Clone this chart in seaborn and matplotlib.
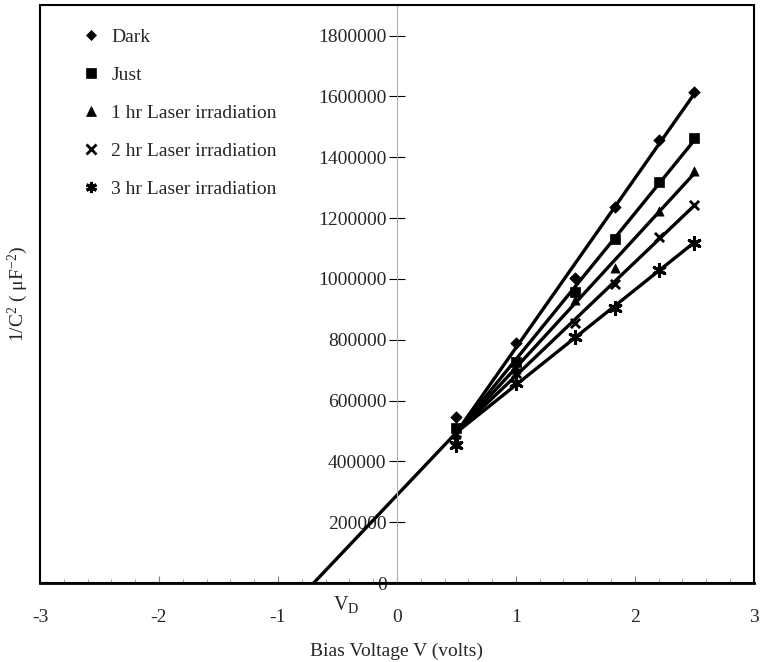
import numpy as np
import pandas as pd
import seaborn as sns
from matplotlib import pyplot as plt
from matplotlib.lines import Line2D
from matplotlib.patches import Rectangle

# bias voltage (V) where C was measured
bias_v = [0.5, 1.0, 1.5, 1.83, 2.2, 2.5]

# 1/C^2 (uF^-2)
dark = [546000, 790000, 1003000, 1237000, 1457000, 1615000]
just = [510000, 727000, 957000, 1132000, 1319000, 1462000]
hr1 = [490000, 705000, 931000, 1036000, 1224000, 1355000]
hr2 = [470000, 690000, 855000, 984000, 1138000, 1243000]
hr3 = [454000, 658000, 809000, 905000, 1030000, 1118000]

labels = ["Dark", "Just", "1 hr Laser irradiation",
          "2 hr Laser irradiation", "3 hr Laser irradiation"]
series = [dark, just, hr1, hr2, hr3]

# common point of the fits and the extrapolated intercept V_D
pivot_v, pivot_c = 0.5, 495000
v_d = -0.70

df = pd.DataFrame({
    "V": bias_v * len(series),
    "invC2": sum(series, []),
    "series": np.repeat(labels, len(bias_v)),
})

sns.set_theme(style="white")
plt.rcParams["font.family"] = ["Liberation Serif", "DejaVu Serif"]
plt.rcParams["mathtext.fontset"] = "custom"
plt.rcParams["mathtext.rm"] = "Liberation Serif"
plt.rcParams["mathtext.default"] = "regular"

fs = 14

fig = plt.figure(figsize=(7.61, 6.62), dpi=100)
ax = fig.add_axes([0.0526, 0.1193, 0.938, 0.873])

marks = {labels[0]: "D", labels[1]: "s", labels[2]: "^",
         labels[3]: "x", labels[4]: (6, 2, 0)}
msize = {labels[0]: 34, labels[1]: 44, labels[2]: 44,
         labels[3]: 44, labels[4]: 75}
mew = {labels[0]: 0.5, labels[1]: 0.5, labels[2]: 0.5,
       labels[3]: 2.0, labels[4]: 2.2}

for lab in labels:
    sub = df[df.series == lab]
    sns.scatterplot(data=sub, x="V", y="invC2", marker=marks[lab],
                    s=msize[lab], color="black", edgecolor="black",
                    linewidth=mew[lab], ax=ax, legend=False, zorder=3)
    # least squares line forced through the common point
    x = np.array(sub.V) - pivot_v
    y = np.array(sub.invC2) - pivot_c
    k = (x * y).sum() / (x * x).sum()
    xe = max(bias_v)
    ax.plot([pivot_v, xe], [pivot_c, pivot_c + k * (xe - pivot_v)],
            color="black", lw=2.4, solid_capstyle="butt", zorder=2)

# extrapolation down to the x axis
ax.plot([v_d, pivot_v], [0, pivot_c], color="black", lw=2.4, zorder=2)

ax.set_xlim(-3, 3)
ax.set_ylim(0, 1900000)

ax.spines["left"].set_position(("data", 0))
ax.spines["left"].set_color("#b0b0b0")
ax.spines["left"].set_linewidth(0.8)
for s in ["top", "right"]:
    ax.spines[s].set_color("black")
    ax.spines[s].set_linewidth(1.2)
ax.spines["bottom"].set_color("black")
ax.spines["bottom"].set_linewidth(2.0)
ax.add_patch(Rectangle((0, 0), 1, 1, transform=ax.transAxes, fill=False,
                       lw=1.5, ec="black", clip_on=False, zorder=5))

ax.set_yticks(np.arange(0, 1800001, 200000))
ax.set_yticklabels([str(v) for v in range(0, 1800001, 200000)])
ax.set_xticks([-3, -2, -1, 0, 1, 2, 3])
ax.set_xticklabels(["-3", "-2", "-1", "0", "1", "2", "3"])
ax.set_xticks(np.arange(-3, 3.01, 0.2), minor=True)
ax.tick_params(axis="y", direction="inout", length=11, width=0.8,
               color="black", labelsize=fs, pad=2, left=True)
ax.tick_params(axis="x", which="major", direction="in", length=5,
               width=0.8, color="#808080", labelsize=fs, pad=19,
               bottom=True)
ax.tick_params(axis="x", which="minor", direction="in", length=3,
               width=0.6, color="#909090", bottom=True)

ax.set_xlabel("Bias Voltage V (volts)", fontsize=fs, labelpad=12)
ax.set_ylabel("1/C$^{2}$ ( μF$^{-2}$)", fontsize=fs)
ax.yaxis.set_label_coords(-0.014, 0.5)

ax.text(v_d + 0.27, -0.038, "V$_{D}$", transform=ax.get_xaxis_transform(),
        ha="center", va="center", fontsize=fs + 0.5)

handles = []
for lab in labels:
    mk = marks[lab]
    sz = 5.5 if mk == "D" else (8 if lab == labels[4] else 6.5)
    handles.append(Line2D([], [], ls="none", marker=mk, color="black",
                          markersize=sz, markeredgewidth=mew[lab]))
ax.legend(handles, labels, loc="upper left", bbox_to_anchor=(0.033, 0.99),
          frameon=False, fontsize=fs, labelspacing=1.05,
          handletextpad=0.55, handlelength=1.0)

fig.savefig("out.png", dpi=100)
